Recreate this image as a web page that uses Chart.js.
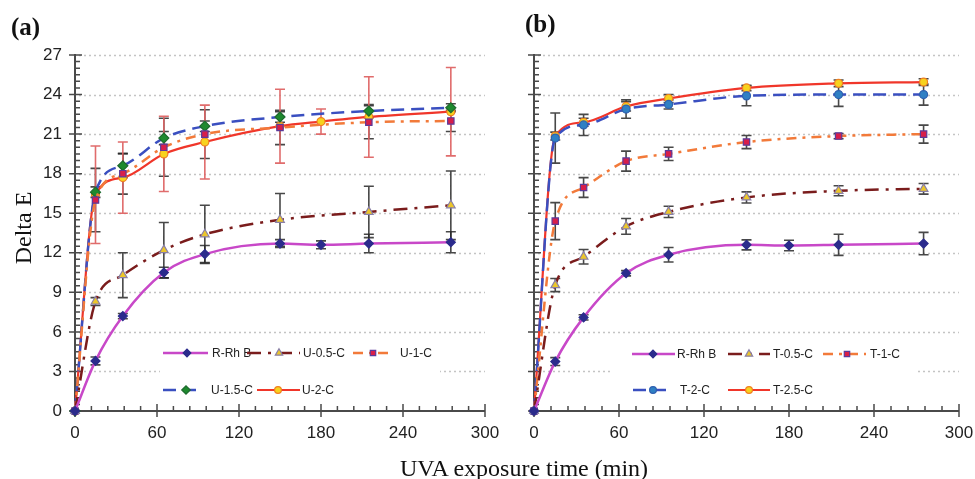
<!DOCTYPE html>
<html>
<head>
<meta charset="utf-8">
<title>Delta E vs UVA exposure time</title>
<script src="https://cdn.jsdelivr.net/npm/chart.js@4/dist/chart.umd.min.js"></script>
<style>
  html, body { margin: 0; padding: 0; background: #fff; width: 975px; height: 479px; overflow: hidden; }
  body { position: relative; }
  canvas { position: absolute; top: 0; }
  #panelA { left: 0; }
  #panelB { left: 490px; }
  .tag { position: absolute; font: bold 25px "Liberation Serif", "Times New Roman", serif; color: #111; line-height: 25px; }
  .axisTitle { position: absolute; font: 24px "Liberation Serif", "Times New Roman", serif; color: #111; text-align: center; line-height: 28px; white-space: nowrap; }
</style>
</head>
<body>
<canvas id="panelA" width="520" height="479"></canvas>
<canvas id="panelB" width="505" height="479"></canvas>
<div class="tag" style="left:11px; top:14px;">(a)</div>
<div class="tag" style="left:525px; top:11px;">(b)</div>
<div class="axisTitle" style="left:-27px; top:214px; width:100px; height:28px; transform:rotate(-90deg);">Delta E</div>
<div class="axisTitle" style="left:274px; top:454px; width:500px;">UVA exposure time (min)</div>

<script>
// ---- measurement times (min) ----
const timesWith180 = [0, 15, 35, 65, 95, 150, 180, 215, 275];
const timesMain    = [0, 15, 35, 65, 95, 150, 215, 275];

// ---- axis ticks ----
const xTickStep = 60, xMinorStep = 12, xMax = 300;
const yTickStep = 3,  yMinorStep = 0.5, yMax = 27;

// ---- panel (a): reference and U-series ----
const rhbA    = [0, 3.8, 7.2, 10.5, 11.9, 12.7, 12.6, 12.7, 12.8];
const rhbAErr = [0, 0.3, 0.2, 0.4, 0.65, 0.3, 0.3, 0.7, 0.8];
const u05     = [0, 8.3, 10.3, 12.2, 13.4, 14.5, 15.1, 15.6];
const u05Err  = [0, 0.3, 1.7, 2.1, 2.2, 2.0, 1.95, 2.6];
const u1      = [0, 16.0, 18.0, 20.0, 21.0, 21.5, 21.9, 22.0];
const u1Err   = [0, 2.4, 1.55, 2.2, 1.85, 1.3, 1.25, 0.8];
const u15     = [0, 16.6, 18.6, 20.7, 21.6, 22.3, 22.75, 23.0];
const u15Err  = [0, 0.4, 0.9, 0.5, 0.4, 0.4, 0.5, 0.3];
const u2      = [0, 16.4, 17.7, 19.5, 20.4, 21.6, 21.95, 22.3, 22.7];
const u2Err   = [0, 3.7, 2.7, 2.85, 2.8, 2.8, 0.95, 3.05, 3.35];

// ---- panel (b): reference and T-series ----
const rhbB    = [0, 3.75, 7.1, 10.45, 11.85, 12.6, 12.55, 12.6, 12.7];
const rhbBErr = [0, 0.3, 0.2, 0.2, 0.55, 0.38, 0.4, 0.8, 0.85];
const t05     = [0, 9.55, 11.7, 14.0, 15.1, 16.2, 16.7, 16.85];
const t05Err  = [0, 0.5, 0.55, 0.6, 0.43, 0.42, 0.38, 0.4];
const t1      = [0, 14.4, 16.95, 18.95, 19.5, 20.4, 20.85, 21.0];
const t1Err   = [0, 1.4, 0.75, 0.76, 0.5, 0.5, 0.2, 0.68];
const t2      = [0, 20.7, 21.7, 22.9, 23.25, 23.9, 24.0, 24.0];
const t2Err   = [0, 1.9, 0.8, 0.7, 0.35, 0.75, 0.9, 0.8];
const t25     = [0, 20.85, 21.9, 23.1, 23.7, 24.5, 24.85, 24.95];
const t25Err  = [0, 0.3, 0.3, 0.35, 0.3, 0.2, 0.25, 0.25];

Chart.defaults.font.family = '"Liberation Sans", Arial, sans-serif';
Chart.defaults.color = '#222';

const toPoints = (xs, ys) => xs.map((x, i) => ({ x: x, y: ys[i] }));

// series appearance
const STYLE = {
  rhb:  { borderColor: '#c848c8', borderWidth: 2.5, borderDash: [], pointStyle: 'rectRot', pointRadius: 4.5,
          pointBackgroundColor: '#2b2b8c', pointBorderColor: '#2b2b8c', errorColor: 'rgba(40,40,40,0.85)' },
  c05:  { borderColor: '#7a1c1c', borderWidth: 2.5, borderDash: [14, 7, 3, 7], pointStyle: 'triangle', pointRadius: 5,
          pointBackgroundColor: '#ecc62a', pointBorderColor: '#8a80a8', errorColor: 'rgba(40,40,40,0.85)' },
  c1:   { borderColor: '#f27a3a', borderWidth: 2.5, borderDash: [10, 6, 3, 6], pointStyle: 'rect', pointRadius: 4.5,
          pointBackgroundColor: '#d81e4a', pointBorderColor: '#5b3a9a', errorColor: 'rgba(40,40,40,0.85)' },
  c15:  { borderColor: '#3a4fc0', borderWidth: 2.5, borderDash: [13, 7], pointStyle: 'rectRot', pointRadius: 5,
          pointBackgroundColor: '#1e8a2e', pointBorderColor: '#1e6a2e', errorColor: 'rgba(40,40,40,0.85)' },
  c2:   { borderColor: '#f0362a', borderWidth: 2.2, borderDash: [], pointStyle: 'circle', pointRadius: 4,
          pointBackgroundColor: '#f7d21e', pointBorderColor: '#f08020', errorColor: 'rgba(222,100,100,0.95)' },
  t2:   { borderColor: '#3a4fc0', borderWidth: 2.5, borderDash: [13, 7], pointStyle: 'circle', pointRadius: 4,
          pointBackgroundColor: '#2f80c4', pointBorderColor: '#2f60b0', errorColor: 'rgba(40,40,40,0.85)' },
  t25:  { borderColor: '#f0362a', borderWidth: 2.2, borderDash: [], pointStyle: 'circle', pointRadius: 4,
          pointBackgroundColor: '#f7d21e', pointBorderColor: '#f08020', errorColor: 'rgba(40,40,40,0.85)' }
};

function series(label, xs, ys, errs, style) {
  return Object.assign({
    label: label,
    data: toPoints(xs, ys),
    errors: errs,
    showLine: true,
    fill: false,
    clip: false,
    pointBorderWidth: 1.2,
    cubicInterpolationMode: 'monotone'
  }, style);
}

// draws grid, axes with minor ticks, error bars and the in-plot legend
const decorPlugin = {
  id: 'decor',
  beforeDatasetsDraw(chart, args, opts) {
    const ctx = chart.ctx, ca = chart.chartArea;
    const xs = chart.scales.x, ys = chart.scales.y;
    ctx.save();
    // dotted horizontal grid
    ctx.setLineDash([2, 3]);
    ctx.strokeStyle = '#c4c4c4';
    ctx.lineWidth = 1.3;
    ys.ticks.forEach(t => {
      if (t.value === 0) return;
      const y = Math.round(ys.getPixelForValue(t.value)) + 0.5;
      ctx.beginPath(); ctx.moveTo(ca.left + 4, y); ctx.lineTo(ca.right, y); ctx.stroke();
    });
    ctx.setLineDash([]);
    // legend backdrop
    const b = opts.box;
    ctx.fillStyle = '#fff';
    ctx.fillRect(b[0], b[1], b[2] - b[0], b[3] - b[1]);
    // axes
    ctx.strokeStyle = '#4a4a4a';
    ctx.lineWidth = 2;
    ctx.beginPath();
    ctx.moveTo(ca.left, ca.top - 1); ctx.lineTo(ca.left, ca.bottom);
    ctx.lineTo(ca.right, ca.bottom);
    ctx.stroke();
    ctx.lineWidth = 1.5;
    ctx.beginPath();
    for (let v = 0; v <= yMax + 1e-9; v += yMinorStep) {
      const y = ys.getPixelForValue(v);
      const major = Math.abs(v / yTickStep - Math.round(v / yTickStep)) < 1e-6;
      ctx.moveTo(major ? ca.left - 6 : ca.left, y);
      ctx.lineTo(ca.left + (major ? 7 : 5), y);
    }
    for (let v = 0; v <= xMax + 1e-9; v += xMinorStep) {
      const x = xs.getPixelForValue(v);
      const major = Math.abs(v / xTickStep - Math.round(v / xTickStep)) < 1e-6;
      ctx.moveTo(x, major ? ca.bottom + 6 : ca.bottom);
      ctx.lineTo(x, ca.bottom - (major ? 7 : 5));
    }
    ctx.stroke();
    // error bars
    chart.data.datasets.forEach((ds, i) => {
      if (!ds.errors) return;
      const meta = chart.getDatasetMeta(i);
      ctx.strokeStyle = ds.errorColor;
      ctx.lineWidth = 1.6;
      ctx.beginPath();
      meta.data.forEach((el, j) => {
        const e = ds.errors[j];
        if (!e) return;
        const v = ds.data[j].y;
        const x = el.x;
        const yt = ys.getPixelForValue(v + e), yb = ys.getPixelForValue(v - e);
        ctx.moveTo(x, yt); ctx.lineTo(x, yb);
        ctx.moveTo(x - 5, yt); ctx.lineTo(x + 5, yt);
        ctx.moveTo(x - 5, yb); ctx.lineTo(x + 5, yb);
      });
      ctx.stroke();
    });
    ctx.restore();
  },
  afterDatasetsDraw(chart, args, opts) {
    const ctx = chart.ctx;
    ctx.save();
    opts.items.forEach(it => {
      const ds = chart.data.datasets[it.index];
      ctx.strokeStyle = ds.borderColor;
      ctx.lineWidth = ds.borderWidth;
      ctx.setLineDash(ds.borderDash || []);
      ctx.beginPath(); ctx.moveTo(it.x0, it.y); ctx.lineTo(it.x1, it.y); ctx.stroke();
      ctx.setLineDash([]);
      ctx.fillStyle = ds.pointBackgroundColor;
      ctx.strokeStyle = ds.pointBorderColor;
      ctx.lineWidth = 1.2;
      Chart.helpers.drawPoint(ctx, { pointStyle: ds.pointStyle, radius: ds.pointRadius * 0.85, rotation: 0, borderWidth: 1.2 }, it.m, it.y);
      ctx.fillStyle = '#222';
      ctx.font = '12px "Liberation Sans", Arial, sans-serif';
      ctx.textBaseline = 'middle';
      ctx.textAlign = 'left';
      ctx.fillText(ds.label, it.tx, it.y + 0.5);
    });
    ctx.restore();
  }
};

function makeOptions(yWidth, rightPad, showYLabels, decor) {
  return {
    responsive: false,
    animation: false,
    events: [],
    layout: { padding: { top: 55, right: rightPad, left: 0, bottom: 0 } },
    plugins: { legend: { display: false }, tooltip: { enabled: false }, decor: decor },
    scales: {
      x: {
        type: 'linear', min: 0, max: xMax,
        grid: { display: false, drawTicks: false },
        border: { display: false },
        ticks: { stepSize: xTickStep, padding: 12, maxRotation: 0, autoSkip: false, color: '#222',
                 font: { size: 17, family: '"Liberation Sans", Arial, sans-serif' } },
        afterFit(s) { s.height = 68; }
      },
      y: {
        type: 'linear', min: 0, max: yMax,
        grid: { display: false, drawTicks: false },
        border: { display: false },
        ticks: { display: showYLabels, stepSize: yTickStep, padding: 13, color: '#222',
                 font: { size: 17, family: '"Liberation Sans", Arial, sans-serif' } },
        afterFit(s) { s.width = yWidth; }
      }
    }
  };
}

// panel (a)
new Chart(document.getElementById('panelA'), {
  type: 'scatter',
  data: {
    datasets: [
      series('R-Rh B', timesWith180, rhbA, rhbAErr, STYLE.rhb),
      series('U-0.5-C', timesMain, u05, u05Err, STYLE.c05),
      series('U-1-C', timesMain, u1, u1Err, STYLE.c1),
      series('U-1.5-C', timesMain, u15, u15Err, STYLE.c15),
      series('U-2-C', timesWith180, u2, u2Err, STYLE.c2)
    ]
  },
  options: makeOptions(75, 35, true, {
    box: [160, 338, 440, 404],
    items: [
      { index: 0, y: 353, x0: 163, x1: 208, m: 187, tx: 212 },
      { index: 1, y: 353, x0: 247, x1: 300, m: 279, tx: 303 },
      { index: 2, y: 353, x0: 353, x1: 388, m: 373, tx: 400 },
      { index: 3, y: 390, x0: 163, x1: 202, m: 186, tx: 211 },
      { index: 4, y: 390, x0: 257, x1: 300, m: 278, tx: 302 }
    ]
  }),
  plugins: [decorPlugin]
});

// panel (b)
new Chart(document.getElementById('panelB'), {
  type: 'scatter',
  data: {
    datasets: [
      series('R-Rh B', timesWith180, rhbB, rhbBErr, STYLE.rhb),
      series('T-0.5-C', timesMain, t05, t05Err, STYLE.c05),
      series('T-1-C', timesMain, t1, t1Err, STYLE.c1),
      series('T-2-C', timesMain, t2, t2Err, STYLE.t2),
      series('T-2.5-C', timesMain, t25, t25Err, STYLE.t25)
    ]
  },
  options: makeOptions(44, 36, false, {
    box: [122, 338, 428, 404],
    items: [
      { index: 0, y: 354, x0: 142, x1: 185, m: 163, tx: 187 },
      { index: 1, y: 354, x0: 238, x1: 280, m: 259, tx: 283 },
      { index: 2, y: 354, x0: 333, x1: 376, m: 357, tx: 380 },
      { index: 3, y: 390, x0: 143, x1: 180, m: 163, tx: 190 },
      { index: 4, y: 390, x0: 238, x1: 280, m: 259, tx: 283 }
    ]
  }),
  plugins: [decorPlugin]
});
</script>
</body>
</html>
